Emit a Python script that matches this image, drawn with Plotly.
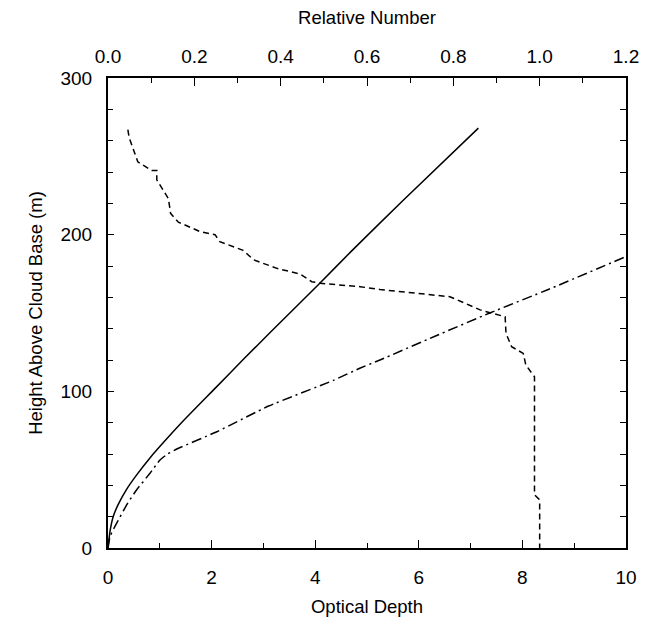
import plotly.graph_objects as go

# Optical depth (solid)
od_solid_x = [0, 0.04, 0.1, 0.2, 0.35, 0.55, 0.81, 1.13, 1.45, 2.1, 2.6, 3.13, 4.06, 4.7, 5.7, 7.15]
od_solid_h = [0, 11, 20, 28, 37, 46.5, 57.5, 69.5, 81, 103, 120, 137.5, 168, 189.5, 222, 268]

# Optical depth (dash-dot)
od_dd_x = [0, 0.04, 0.17, 0.36, 0.55, 0.81, 1.0, 1.15, 1.35, 2.1, 3.1, 4.35, 4.86, 5.25, 6.3, 7.37, 8.5, 10.0]
od_dd_h = [0, 7.5, 16, 27.5, 37, 47.7, 56, 60, 63.5, 74.2, 90.6, 107, 114.7, 120, 135, 150, 165, 186]

# Relative number (dashed, top axis)
rel_x = [0.046, 0.049, 0.069, 0.101, 0.113, 0.113, 0.140, 0.145, 0.163, 0.213, 0.248, 0.259,
         0.313, 0.337, 0.391, 0.445, 0.472, 0.491, 0.584, 0.630, 0.792, 0.831, 0.862, 0.885, 0.920,
         0.922, 0.935, 0.962, 0.968, 0.985, 0.988, 0.988, 0.999, 1.000, 1.000]
rel_h = [267, 262, 246.5, 241, 241, 235, 223, 213.6, 208, 202, 200, 195.5,
         190, 184, 178.5, 174.9, 170, 169, 166.8, 165, 160.4, 156, 152, 150.2, 147.6,
         137, 128.5, 124.2, 116.8, 110.4, 109.3, 34, 31, 28, 0]

x_ticks = [0, 2, 4, 6, 8, 10]
top_ticks = [0.0, 0.2, 0.4, 0.6, 0.8, 1.0, 1.2]
y_ticks = [0, 100, 200, 300]

FAM = "Liberation Sans, Arial, Helvetica, sans-serif"
titlefont = dict(family=FAM, size=18.5, color="black")
tickfont = dict(family=FAM, size=19, color="black")

fig = go.Figure()
fig.add_trace(go.Scatter(x=od_solid_x, y=od_solid_h, mode="lines",
                         line=dict(color="black", width=1.5, shape="spline", smoothing=0.6),
                         showlegend=False))
fig.add_trace(go.Scatter(x=od_dd_x, y=od_dd_h, mode="lines",
                         line=dict(color="black", width=1.5, dash="10px,4px,2px,4px",
                                   shape="spline", smoothing=0.4),
                         showlegend=False))
fig.add_trace(go.Scatter(x=rel_x, y=rel_h, mode="lines", xaxis="x2",
                         line=dict(color="black", width=1.5, dash="6px,4px"),
                         showlegend=False))
# invisible trace for right axis ticks
fig.add_trace(go.Scatter(x=[None], y=[None], yaxis="y2", showlegend=False))

common = dict(tickcolor="black", tickwidth=1.2, showline=True, linecolor="black", linewidth=2,
              showgrid=False, zeroline=False, automargin=False)

fig.update_layout(
    width=652, height=625,
    margin=dict(l=108, r=26, t=78, b=77),
    paper_bgcolor="white", plot_bgcolor="white",
    font=titlefont,
    xaxis=dict(range=[0, 10], tickvals=x_ticks, ticks="inside", ticklen=8,
               ticklabelstandoff=11,
               minor=dict(dtick=1, ticks="inside", ticklen=5, tickwidth=1.2, tickcolor="black"),
               title=dict(text="Optical Depth", standoff=13, font=titlefont), tickfont=tickfont,
               **common),
    xaxis2=dict(range=[0, 1.2], tickvals=top_ticks, tickformat=".1f", overlaying="x", side="top",
                ticks="inside", ticklen=8, ticklabelstandoff=5,
                minor=dict(dtick=0.1, ticks="inside", ticklen=5, tickwidth=1.2, tickcolor="black"),
                title=dict(text="Relative Number", standoff=17, font=titlefont), tickfont=tickfont,
                **common),
    yaxis=dict(range=[0, 300], tickvals=y_ticks, ticks="inside", ticklen=6,
               ticklabelstandoff=10,
               minor=dict(dtick=20, ticks="inside", ticklen=5, tickwidth=1.2, tickcolor="black"),
               title=dict(text="Height Above Cloud Base (m)", standoff=13, font=titlefont),
               tickfont=tickfont, **common),
    yaxis2=dict(range=[0, 300], overlaying="y", side="right", showticklabels=False,
                tickvals=list(range(0, 301, 20)), ticks="inside", ticklen=6, **common),
)

fig.write_html("out.html")
